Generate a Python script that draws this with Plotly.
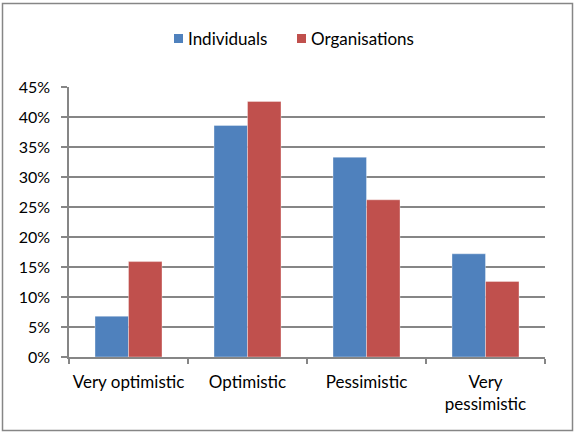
import plotly.graph_objects as go

categories = ["Very optimistic", "Optimistic", "Pessimistic", "Very<br>pessimistic"]
series_names = ["Individuals", "Organisations"]
individuals = [0.068, 0.386, 0.333, 0.172]
organisations = [0.159, 0.426, 0.262, 0.126]
y_ticks = [0, 0.05, 0.10, 0.15, 0.20, 0.25, 0.30, 0.35, 0.40, 0.45]
y_tick_labels = ["0%", "5%", "10%", "15%", "20%", "25%", "30%", "35%", "40%", "45%"]

W, H = 574, 433
L, R, T, B = 69, 29, 87, 76
FONT = "Lato"
GREY = "#868686"
COLORS = ["#4F81BD", "#C0504D"]

fig = go.Figure()
for name, vals, col in zip(series_names, [individuals, organisations], COLORS):
    fig.add_trace(go.Bar(name=name, x=categories, y=vals, showlegend=False,
                         marker=dict(color=col, line=dict(color="rgba(255,255,255,0.6)", width=0.6))))

pw, ph = W - L - R, H - T - B
def px_x(x):
    return (x - L) / pw
def px_y(y):
    return (H - B - y) / ph

# legend drawn as coloured squares with labels beside them
shapes = [dict(type="rect", xref="paper", yref="paper",
               x0=px_x(2.5), x1=px_x(572.5), y0=px_y(430.5), y1=px_y(3.5),
               line=dict(color=GREY, width=1.5), fillcolor="rgba(0,0,0,0)", layer="below")]
annotations = []
legend_x = [174, 297]
for name, col, lx in zip(series_names, COLORS, legend_x):
    shapes.append(dict(type="rect", xref="paper", yref="paper",
                       x0=px_x(lx), x1=px_x(lx + 9), y0=px_y(43), y1=px_y(34),
                       line=dict(width=0), fillcolor=col))
    annotations.append(dict(text=name, xref="paper", yref="paper", x=px_x(lx + 12), y=px_y(38.5),
                            xanchor="left", yanchor="middle", showarrow=False,
                            font=dict(family=FONT, size=17, color="#000000")))

fig.update_layout(
    width=W, height=H,
    margin=dict(l=L, r=R, t=T, b=B, pad=0),
    paper_bgcolor="white", plot_bgcolor="white",
    barmode="group", bargap=0.437, bargroupgap=0,
    font=dict(family=FONT, size=16, color="#000000"),
    showlegend=False,
    xaxis=dict(type="category", showline=True, linecolor=GREY, linewidth=1.5,
               ticks="outside", tickson="boundaries", ticklen=5, tickcolor=GREY, tickwidth=1.5,
               showgrid=False, tickfont=dict(family=FONT, size=17), ticklabelstandoff=9,
               tickangle=0, automargin=False),
    yaxis=dict(range=[0, 0.45], tickvals=y_ticks, ticktext=y_tick_labels,
               showline=True, linecolor=GREY, linewidth=1.5,
               ticks="outside", ticklen=6, tickcolor=GREY, tickwidth=1.5,
               showgrid=True, gridcolor=GREY, gridwidth=1.5, zeroline=False,
               tickfont=dict(family=FONT, size=16), ticklabelstandoff=8, automargin=False),
    shapes=shapes,
    annotations=annotations,
)

fig.write_html("out.html")
